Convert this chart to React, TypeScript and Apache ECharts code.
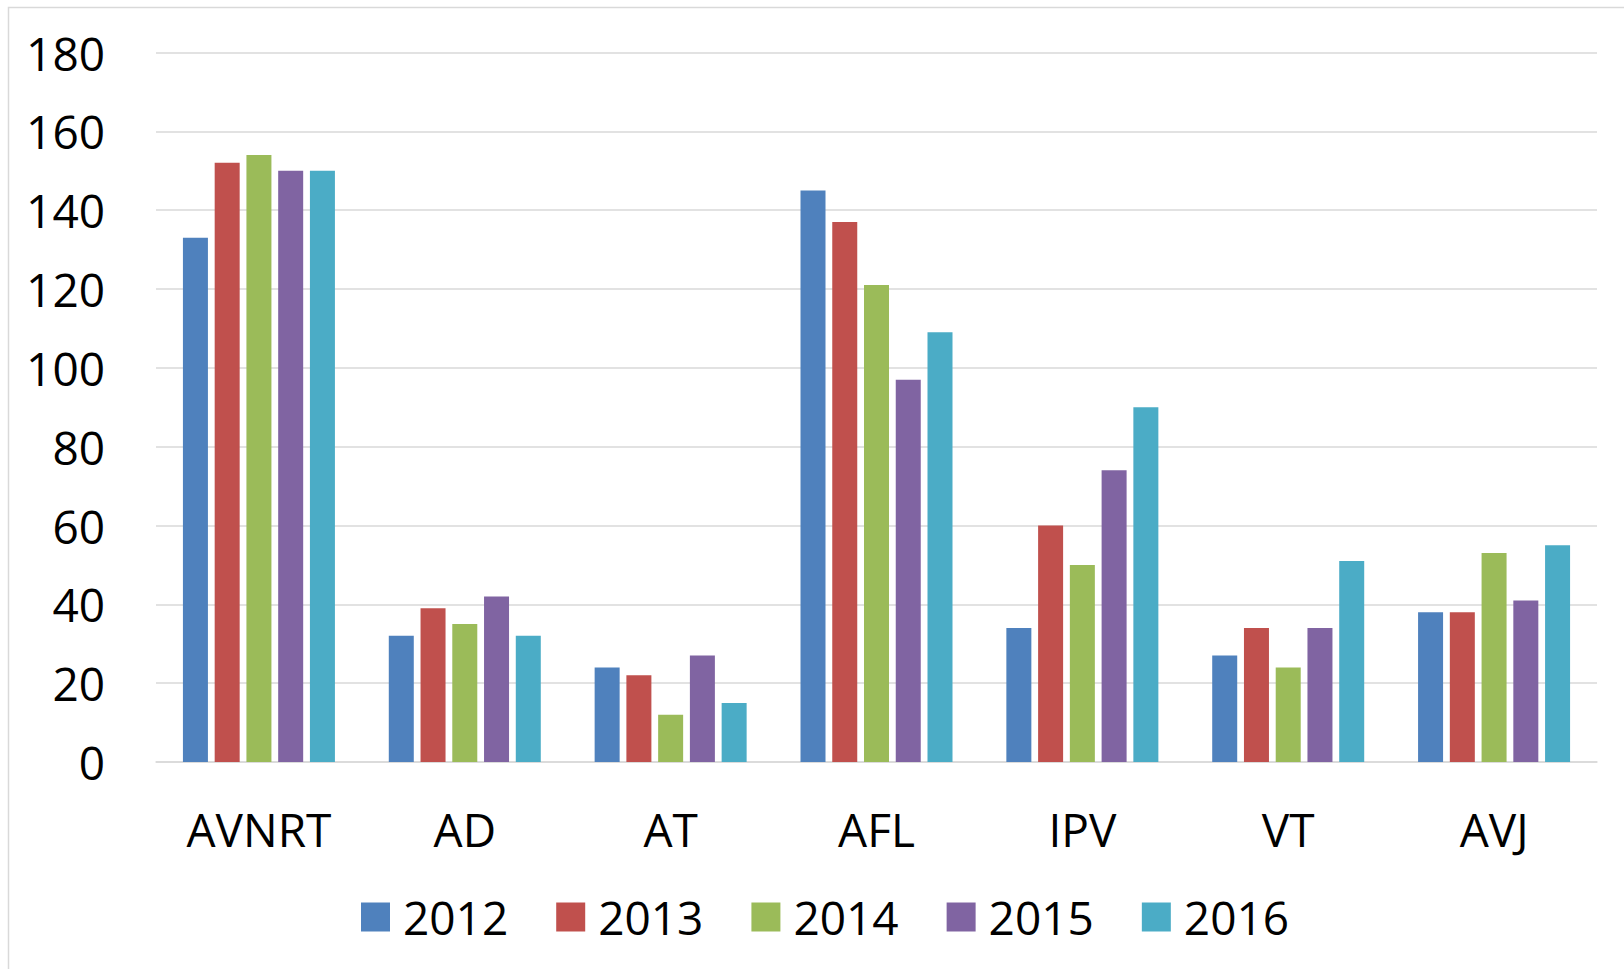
import React, { useEffect, useRef } from "react";
import * as echarts from "echarts";

const categories = ["AVNRT", "AD", "AT", "AFL", "IPV", "VT", "AVJ"];
const seriesNames = ["2012", "2013", "2014", "2015", "2016"];
const values2012 = [133, 32, 24, 145, 34, 27, 38];
const values2013 = [152, 39, 22, 137, 60, 34, 38];
const values2014 = [154, 35, 12, 121, 50, 24, 53];
const values2015 = [150, 42, 27, 97, 74, 34, 41];
const values2016 = [150, 32, 15, 109, 90, 51, 55];
const allValues = [values2012, values2013, values2014, values2015, values2016];
const colors = ["#4F81BD", "#C0504D", "#9BBB59", "#8064A2", "#4BACC6"];

const FONT = "'Open Sans', 'Noto Sans', sans-serif";

export default function App() {
  const ref = useRef<HTMLDivElement>(null);
  useEffect(() => {
    if (!ref.current) return;
    const chart = echarts.init(ref.current, null, { renderer: "svg" });
    chart.setOption({
      animation: false,
      backgroundColor: "#ffffff",
      color: colors,
      graphic: [
        {
          type: "rect",
          shape: { x: 8.5, y: 7.5, width: 1700, height: 1100 },
          style: { fill: "none", stroke: "#d9d9d9", lineWidth: 1.5 },
          silent: true,
          z: -10,
        },
      ],
      grid: { left: 156, right: 27, top: 52.5, bottom: 207, containLabel: false },
      legend: {
        data: seriesNames,
        top: 894,
        left: 361,
        itemWidth: 29,
        itemHeight: 29,
        itemGap: 48,
        icon: "rect",
        padding: 0,
        textStyle: { fontSize: 46, color: "#000", fontFamily: FONT, padding: [0, 0, 0, 8] },
      },
      xAxis: {
        type: "category",
        data: categories,
        axisLine: { show: true, lineStyle: { color: "#d9d9d9", width: 1.5 } },
        axisTick: { show: false },
        axisLabel: { fontSize: 46, color: "#000", fontFamily: FONT, margin: 44 },
      },
      yAxis: {
        type: "value",
        min: 0,
        max: 180,
        interval: 20,
        axisLine: { show: false },
        axisTick: { show: false },
        splitLine: { lineStyle: { color: "#d9d9d9", width: 1.5 } },
        axisLabel: { fontSize: 46, color: "#000", fontFamily: FONT, margin: 51 },
      },
      series: seriesNames.map((name, i) => ({
        name,
        type: "bar",
        data: allValues[i],
        barWidth: 25,
        barGap: "27%",
        itemStyle: { color: colors[i] },
      })),
    });
    return () => chart.dispose();
  }, []);
  return (
    <div
      ref={ref}
      style={{ position: "fixed", left: 0, top: 0, width: 1624, height: 969 }}
    />
  );
}
